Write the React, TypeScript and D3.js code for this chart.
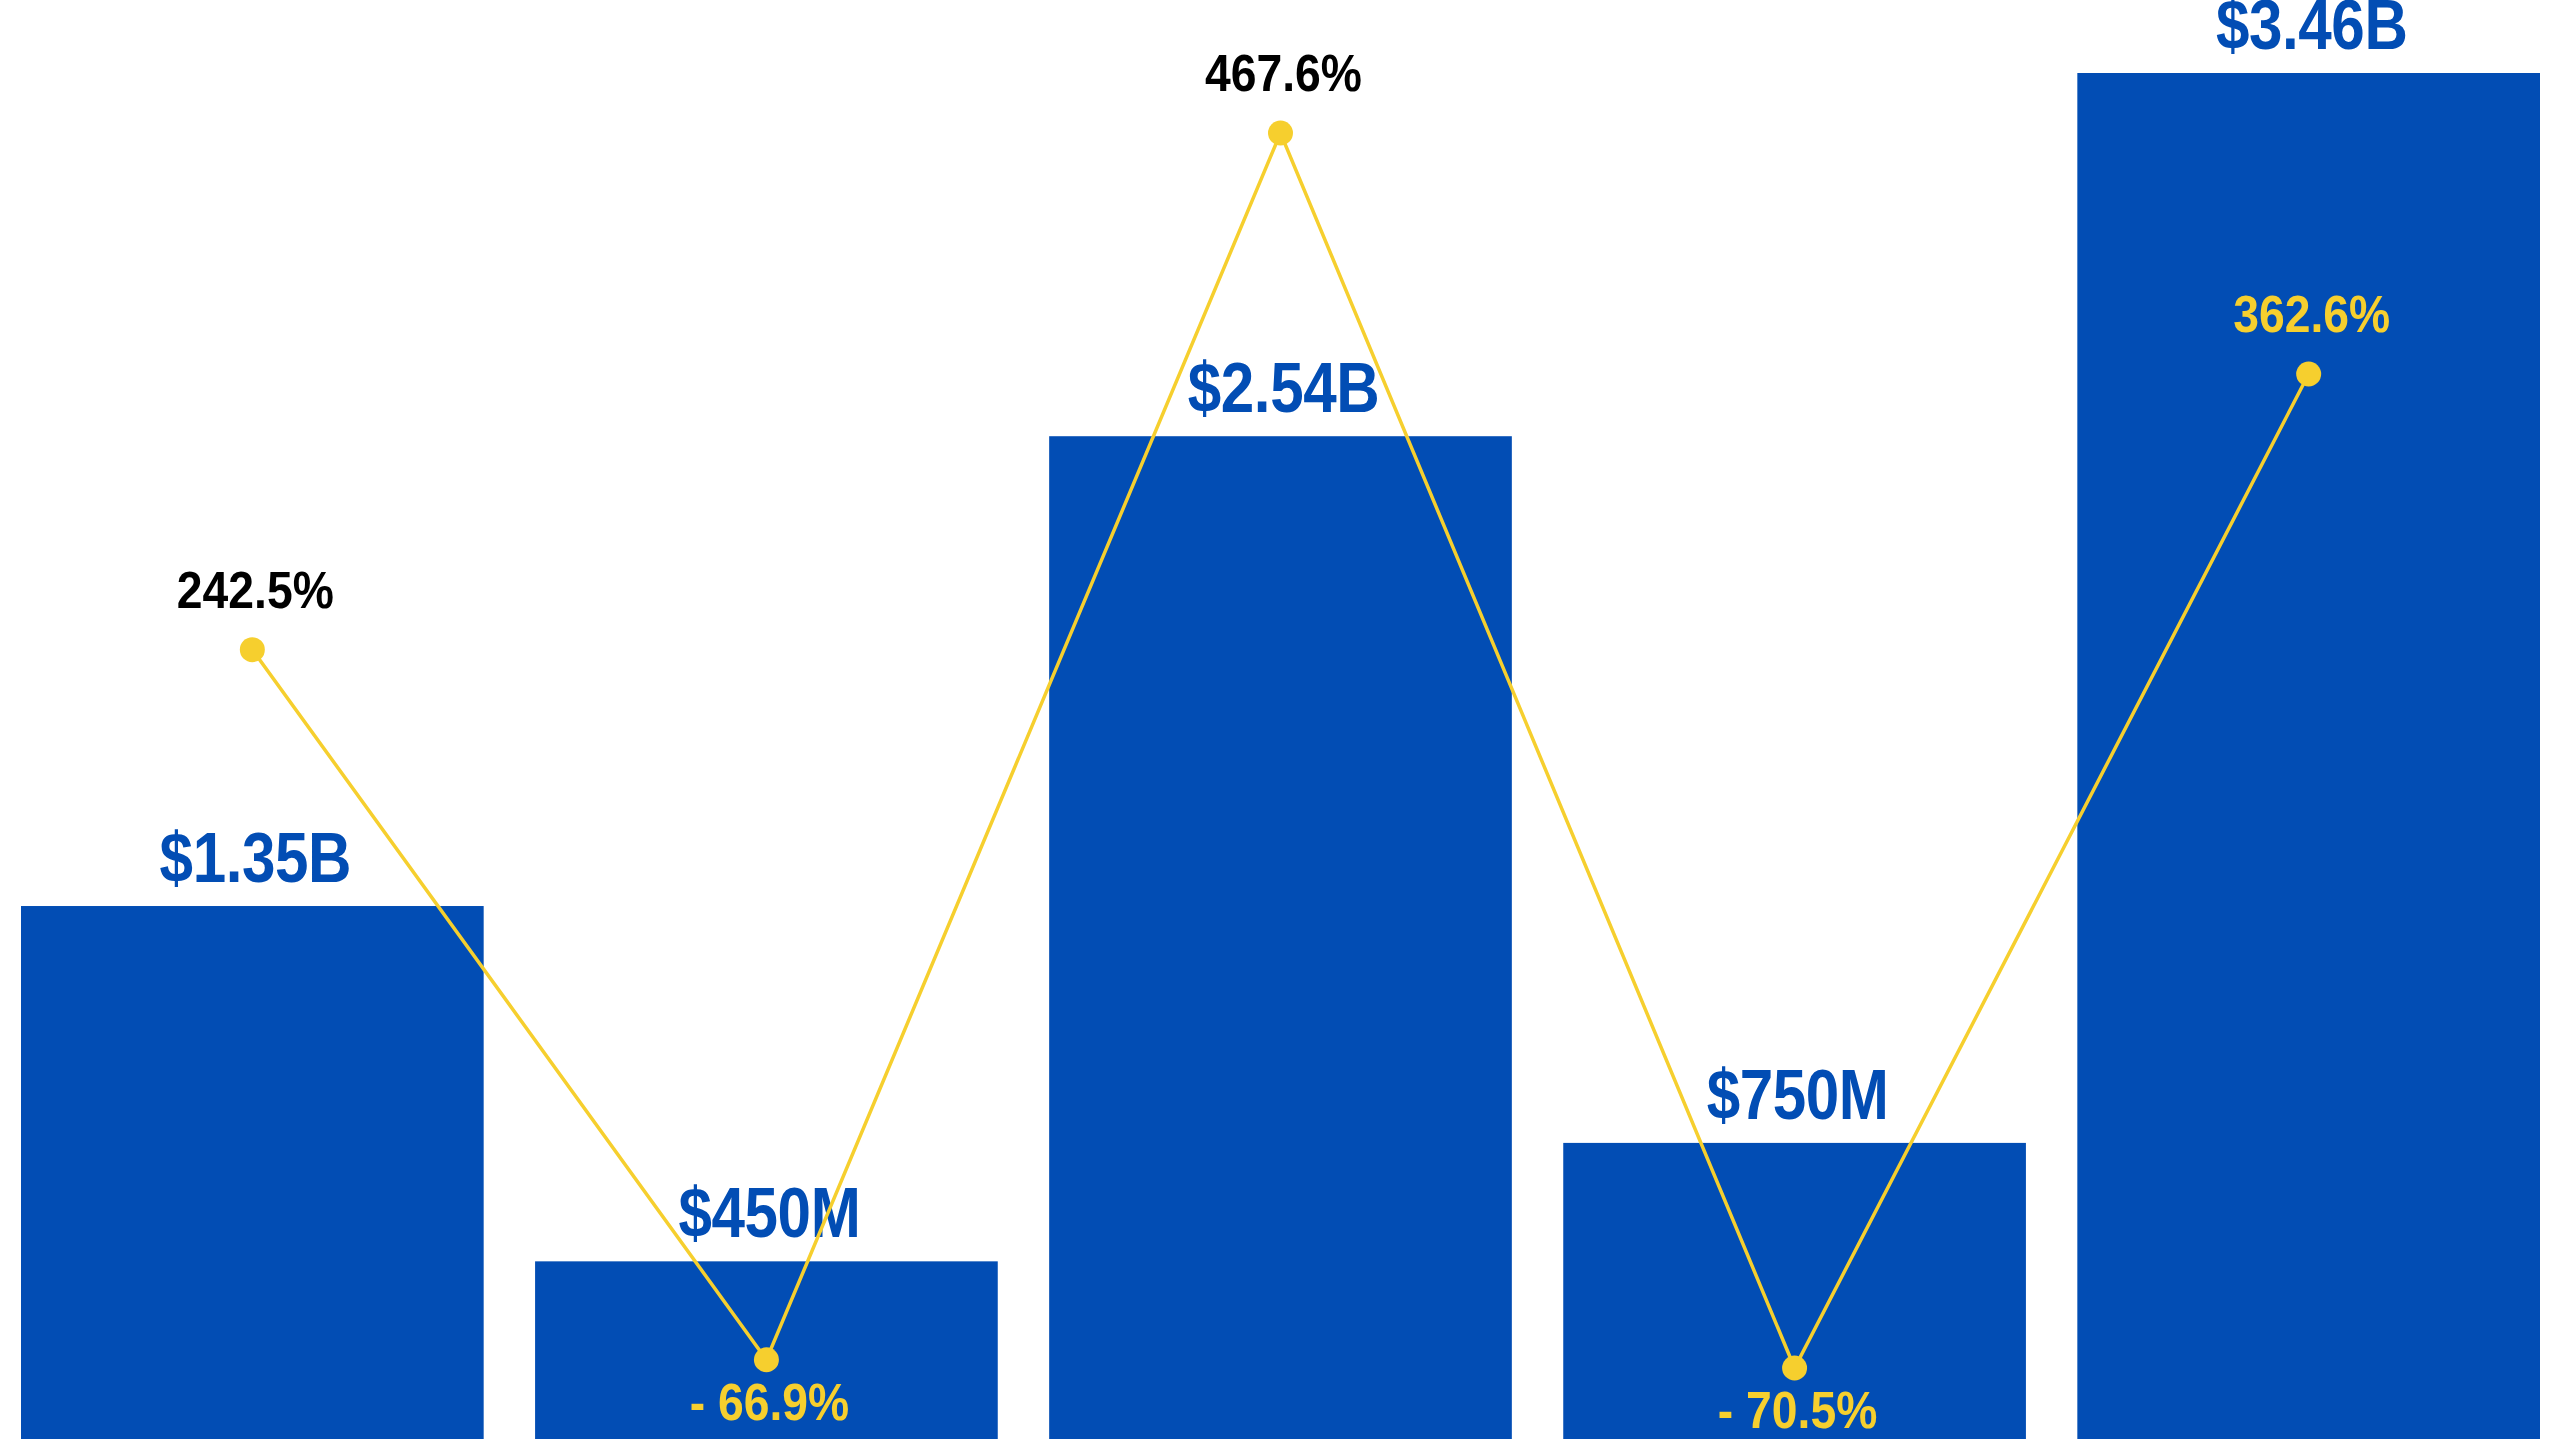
import React from 'react';
import * as d3 from 'd3';

// bar values in $ billions, with their printed labels
const PERIODS = ['P1', 'P2', 'P3', 'P4', 'P5'];
const VALUES = [1.35, 0.45, 2.54, 0.75, 3.46];
const VALUE_LABELS = ['$1.35B', '$450M', '$2.54B', '$750M', '$3.46B'];
// growth line, percent
const GROWTH = [242.5, -66.9, 467.6, -70.5, 362.6];

const W = 2560;
const H = 1440;
const BLUE = '#024db4';
const YELLOW = '#f6cf2e';
const FONT = '"Liberation Sans", Arial, Helvetica, sans-serif';

const fmtPct = (v: number) => (v < 0 ? '- ' : '') + Math.abs(v).toFixed(1) + '%';

const App: React.FC = () => {
  const x = d3.scaleBand<string>()
    .domain(PERIODS)
    .range([21, 2540])
    .paddingInner(0.1)
    .paddingOuter(0);

  const y = d3.scaleLinear()
    .domain([0, d3.max(VALUES) as number])
    .range([1439, 73]);

  const yPct = d3.scaleLinear()
    .domain(d3.extent(GROWTH) as [number, number])
    .range([1368, 133]);

  const cx = (i: number) => (x(PERIODS[i]) as number) + x.bandwidth() / 2;

  const line = d3.line<number>()
    .x((_, i) => cx(i))
    .y(d => yPct(d));

  return (
    <svg
      width={W}
      height={H}
      style={{ position: 'fixed', left: 0, top: 0, background: '#fff' }}
    >
      {/* bars */}
      {VALUES.map((v, i) => (
        <rect
          key={'b' + i}
          x={x(PERIODS[i])}
          y={y(v)}
          width={x.bandwidth()}
          height={y(0) - y(v)}
          fill={BLUE}
        />
      ))}

      {/* bar labels (slightly condensed, like the source typeface) */}
      {VALUES.map((v, i) => (
        <text
          key={'bl' + i}
          transform={`translate(${cx(i) + 3},${y(v) - 24}) scale(0.86,1)`}
          textAnchor="middle"
          fontFamily={FONT}
          fontWeight="bold"
          fontSize={70}
          letterSpacing={-0.5}
          fill={BLUE}
        >
          {VALUE_LABELS[i]}
        </text>
      ))}

      {/* growth line */}
      <path d={line(GROWTH) as string} fill="none" stroke={YELLOW} strokeWidth={3.5} />
      {GROWTH.map((g, i) => (
        <circle key={'c' + i} cx={cx(i)} cy={yPct(g)} r={12.5} fill={YELLOW} />
      ))}

      {/* growth labels: above the dot when positive, below when negative */}
      {GROWTH.map((g, i) => {
        const ly = g >= 0 ? yPct(g) - 42 : yPct(g) + 60;
        const inside = ly - 20 > y(VALUES[i]);
        return (
          <text
            key={'gl' + i}
            transform={`translate(${cx(i) + 3},${ly}) scale(0.89,1)`}
            textAnchor="middle"
            fontFamily={FONT}
            fontWeight="bold"
            fontSize={52}
            fill={inside ? YELLOW : '#000'}
          >
            {fmtPct(g)}
          </text>
        );
      })}
    </svg>
  );
};

export default App;
